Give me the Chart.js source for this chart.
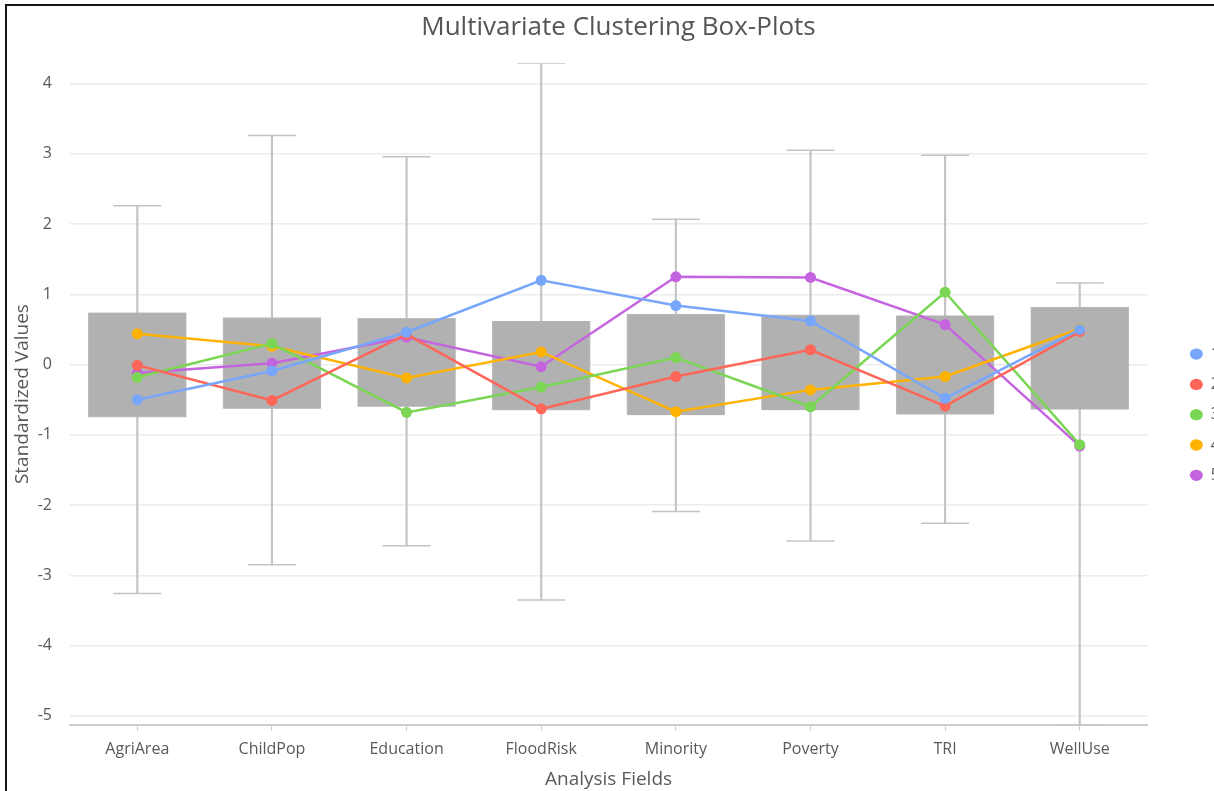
<!DOCTYPE html>
<html>
<head>
<meta charset="utf-8">
<script src="https://cdn.jsdelivr.net/npm/chart.js@4.4.1/dist/chart.umd.min.js"></script>
<style>
  html, body { margin: 0; padding: 0; background: #fff; overflow: hidden; }
  body { width: 1214px; height: 791px; position: relative; }
  #frame {
    position: absolute; left: 5px; top: 4px; width: 1260px; height: 800px;
    border-left: 2px solid #141414; border-top: 2px solid #141414;
  }
  #wrap { position: absolute; left: 7px; top: 6px; width: 1223px; height: 785px; }
</style>
</head>
<body>
<div id="frame"></div>
<div id="wrap"><canvas id="chart"></canvas></div>
<script>
// Analysis fields along the x axis
const categories = ['AgriArea', 'ChildPop', 'Education', 'FloodRisk', 'Minority', 'Poverty', 'TRI', 'WellUse'];

// Box extents (interquartile range) per field
const boxLow  = [-0.75, -0.63, -0.60, -0.65, -0.72, -0.65, -0.71, -0.64];
const boxHigh = [0.74, 0.67, 0.66, 0.62, 0.72, 0.71, 0.70, 0.82];

// Whisker ends per field
const whiskerLow  = [-3.26, -2.85, -2.58, -3.35, -2.09, -2.51, -2.26, -5.13];
const whiskerHigh = [2.26, 3.26, 2.96, 4.29, 2.07, 3.05, 2.98, 1.16];

// Cluster mean profiles
const clusterNames = ['1', '2', '3', '4', '5'];
const cluster1 = [-0.50, -0.09, 0.46, 1.20, 0.84, 0.62, -0.48, 0.50];
const cluster2 = [-0.01, -0.51, 0.43, -0.63, -0.17, 0.21, -0.59, 0.47];
const cluster3 = [-0.18, 0.30, -0.68, -0.32, 0.10, -0.60, 1.03, -1.14];
const cluster4 = [0.44, 0.26, -0.19, 0.18, -0.67, -0.36, -0.17, 0.51];
const cluster5 = [-0.12, 0.02, 0.39, -0.03, 1.25, 1.24, 0.57, -1.16];
const clusterColors = ['#77a6fb', '#ff665a', '#7cd655', '#ffb300', '#c464df'];

const FONT = '"Open Sans", "Noto Sans", sans-serif';
const TEXT = '#595959';
const WHISKER = '#c4c4c4';

const clusterData = [cluster1, cluster2, cluster3, cluster4, cluster5];
const lineSets = clusterData.map((vals, i) => ({
  type: 'line',
  label: clusterNames[i],
  data: vals,
  borderColor: clusterColors[i],
  backgroundColor: clusterColors[i],
  borderWidth: 2.5,
  pointRadius: 5.5,
  pointHoverRadius: 6,
  pointBorderWidth: 0,
  pointStyle: 'circle',
  tension: 0,
  fill: false,
  order: 0
}));

const boxSets = [
  {
    type: 'bar', label: 'whisker', isBox: true,
    data: categories.map((c, i) => [whiskerLow[i], whiskerHigh[i]]),
    backgroundColor: WHISKER, borderWidth: 0,
    barThickness: 1.5, grouped: false, order: 4
  },
  {
    type: 'bar', label: 'box', isBox: true,
    data: categories.map((c, i) => [boxLow[i], boxHigh[i]]),
    backgroundColor: '#b1b1b1', borderColor: '#bcbcbc', borderWidth: 1,
    barThickness: 98, grouped: false, order: 3
  },
  {
    type: 'line', label: 'capHigh', isBox: true,
    data: whiskerHigh, showLine: false,
    pointStyle: 'line', pointRadius: 24, pointHoverRadius: 24,
    borderColor: WHISKER, borderWidth: 1.5, order: 2
  },
  {
    type: 'line', label: 'capLow', isBox: true,
    data: whiskerLow, showLine: false,
    pointStyle: 'line', pointRadius: 24, pointHoverRadius: 24,
    borderColor: WHISKER, borderWidth: 1.5, order: 2
  }
];

const yMin = Math.min(...whiskerLow);
const yMax = Math.max(...whiskerHigh);

new Chart(document.getElementById('chart'), {
  data: {
    labels: categories,
    datasets: [...lineSets, ...boxSets]
  },
  options: {
    responsive: true,
    maintainAspectRatio: false,
    animation: false,
    layout: { padding: { left: 0, right: 0, top: 0, bottom: 0 } },
    plugins: {
      title: {
        display: true,
        text: 'Multivariate Clustering Box-Plots',
        color: '#555',
        font: { family: FONT, size: 26, weight: 'normal', lineHeight: 1.2 },
        padding: { top: 6, bottom: 20 }
      },
      legend: {
        position: 'right',
        title: { display: true, text: ' ', font: { size: 12 }, padding: { top: 9, bottom: 9 } },
        labels: {
          filter: (item, data) => !data.datasets[item.datasetIndex].isBox,
          usePointStyle: true,
          pointStyle: 'circle',
          pointStyleWidth: 13,
          boxHeight: 8,
          color: TEXT,
          padding: 14.3,
          font: { family: FONT, size: 16 }
        }
      },
      tooltip: { enabled: false }
    },
    scales: {
      x: {
        type: 'category',
        offset: true,
        grid: {
          display: true, drawOnChartArea: false, drawTicks: true,
          tickLength: 6, offset: false, color: '#cfcfcf'
        },
        border: { display: true, color: '#cdcdcd', width: 2 },
        ticks: { color: TEXT, font: { family: FONT, size: 16 }, padding: 9 },
        title: {
          display: true, text: 'Analysis Fields', color: TEXT,
          font: { family: FONT, size: 19 }, padding: { top: 0, bottom: 0 }
        }
      },
      y: {
        min: yMin,
        max: yMax,
        grid: { color: '#ececec', lineWidth: 1.5, drawTicks: false },
        border: { display: false },
        ticks: {
          stepSize: 1, includeBounds: false, color: TEXT,
          font: { family: FONT, size: 16 }, padding: 18
        },
        title: {
          display: true, text: 'Standardized Values', color: TEXT,
          font: { family: FONT, size: 19 }, padding: { top: 4, bottom: 0 }
        },
        afterFit: (scale) => { scale.width = 63; }
      },
      // spacer between the plot area and the legend
      yGap: {
        position: 'right',
        min: yMin,
        max: yMax,
        grid: { display: false, drawOnChartArea: false },
        border: { display: false },
        ticks: { display: false },
        afterFit: (scale) => { scale.width = 28.5; }
      }
    }
  }
});
</script>
</body>
</html>
